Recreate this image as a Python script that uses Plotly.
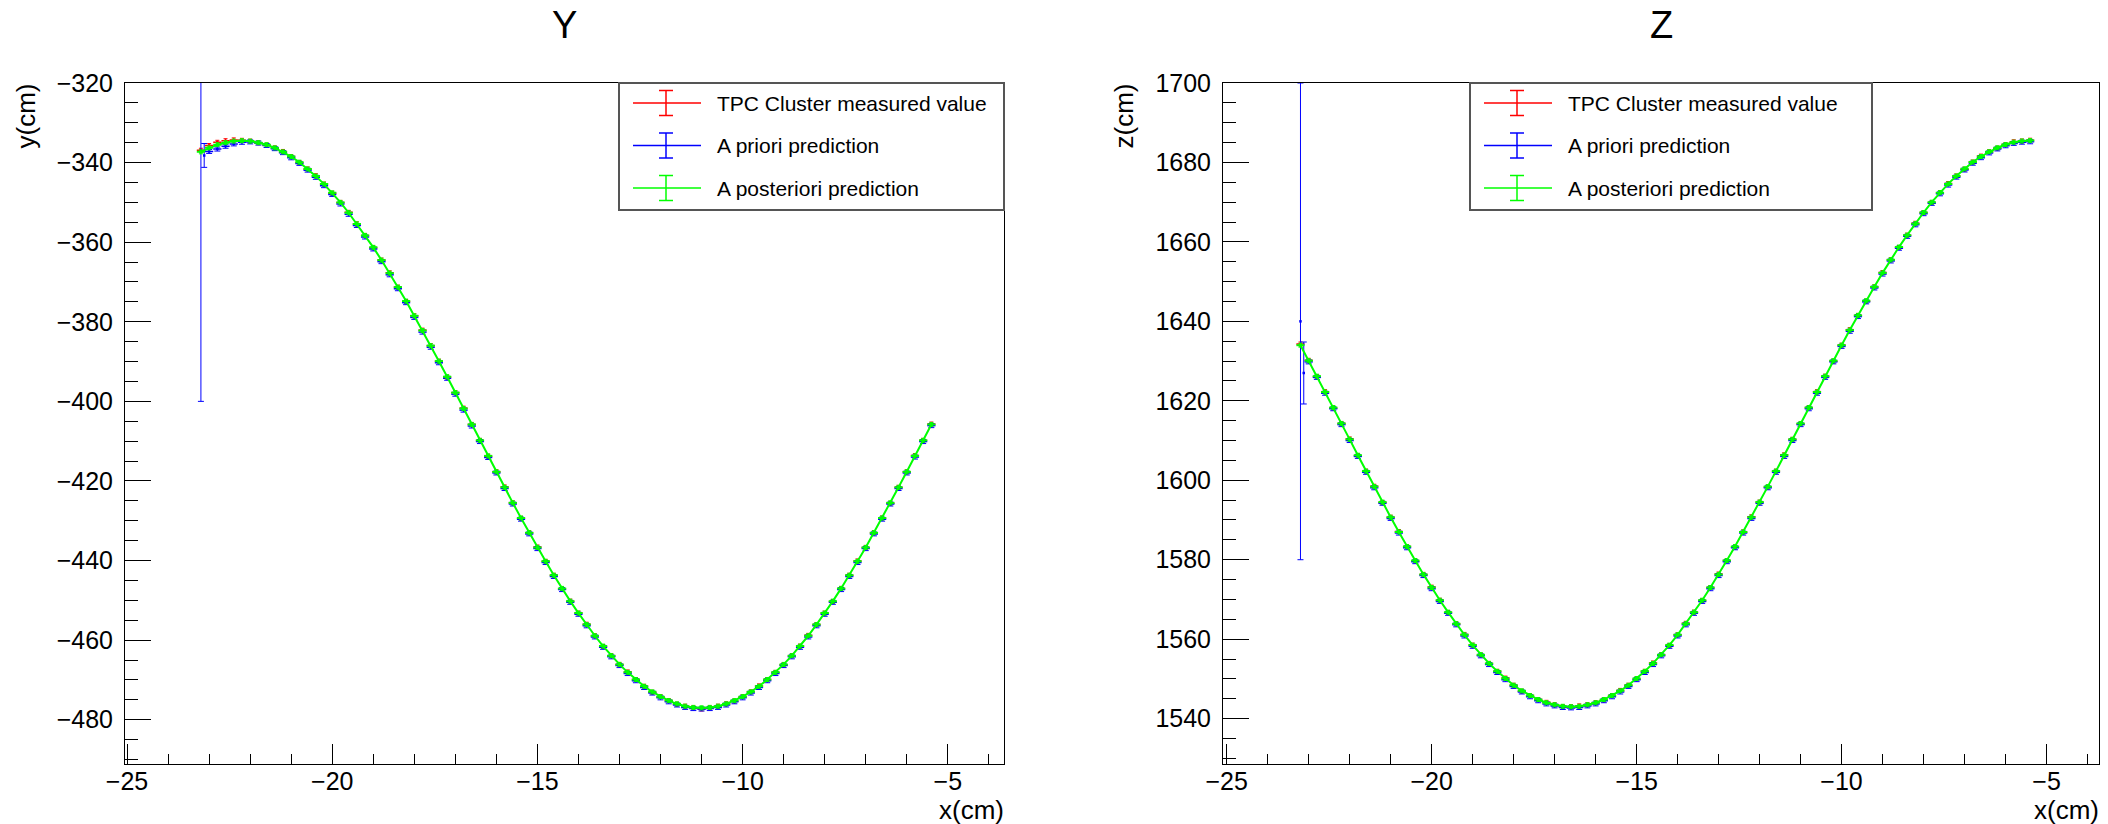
import plotly.graph_objects as go

W, H = 2108, 824

# ---------------- data ----------------
x_cm = [-23.2, -23.0, -22.8, -22.6, -22.4, -22.2, -22.0, -21.8, -21.6, -21.4,
        -21.2, -21.0, -20.8, -20.6, -20.4, -20.2, -20.0, -19.8, -19.6, -19.4,
        -19.2, -19.0, -18.8, -18.6, -18.4, -18.2, -18.0, -17.8, -17.6, -17.4,
        -17.2, -17.0, -16.8, -16.6, -16.4, -16.2, -16.0, -15.8, -15.6, -15.4,
        -15.2, -15.0, -14.8, -14.6, -14.4, -14.2, -14.0, -13.8, -13.6, -13.4,
        -13.2, -13.0, -12.8, -12.6, -12.4, -12.2, -12.0, -11.8, -11.6, -11.4,
        -11.2, -11.0, -10.8, -10.6, -10.4, -10.2, -10.0, -9.8, -9.6, -9.4,
        -9.2, -9.0, -8.8, -8.6, -8.4, -8.2, -8.0, -7.8, -7.6, -7.4,
        -7.2, -7.0, -6.8, -6.6, -6.4, -6.2, -6.0, -5.8, -5.6, -5.4]

x_prior = [-23.2, -23.12, -23.0, -22.8, -22.6, -22.4, -22.2, -22.0, -21.8, -21.6, -21.4,
           -21.2, -21.0, -20.8, -20.6, -20.4, -20.2, -20.0, -19.8, -19.6, -19.4,
           -19.2, -19.0, -18.8, -18.6, -18.4, -18.2, -18.0, -17.8, -17.6, -17.4,
           -17.2, -17.0, -16.8, -16.6, -16.4, -16.2, -16.0, -15.8, -15.6, -15.4,
           -15.2, -15.0, -14.8, -14.6, -14.4, -14.2, -14.0, -13.8, -13.6, -13.4,
           -13.2, -13.0, -12.8, -12.6, -12.4, -12.2, -12.0, -11.8, -11.6, -11.4,
           -11.2, -11.0, -10.8, -10.6, -10.4, -10.2, -10.0, -9.8, -9.6, -9.4,
           -9.2, -9.0, -8.8, -8.6, -8.4, -8.2, -8.0, -7.8, -7.6, -7.4,
           -7.2, -7.0, -6.8, -6.6, -6.4, -6.2, -6.0, -5.8, -5.6, -5.4]

# Y view
y_measured = [-336.9, -335.7, -334.9, -334.5, -334.3, -334.4, -334.6, -335.0, -335.6, -336.3,
              -337.2, -338.5, -340.0, -341.6, -343.3, -345.4, -347.7, -350.0, -352.5, -355.4,
              -358.3, -361.4, -364.5, -367.7, -371.3, -374.9, -378.5, -382.1, -386.0, -389.9,
              -393.9, -397.8, -401.7, -405.8, -409.8, -413.8, -417.7, -421.5, -425.5, -429.4,
              -433.0, -436.6, -440.2, -443.7, -447.1, -450.2, -453.2, -456.0, -458.9, -461.6,
              -463.9, -466.1, -468.0, -469.9, -471.6, -473.1, -474.2, -475.2, -476.1, -476.6,
              -477.0, -477.3, -477.0, -476.6, -476.0, -475.3, -474.2, -473.0, -471.5, -469.9,
              -468.1, -466.2, -463.9, -461.5, -458.8, -456.1, -453.2, -450.3, -447.0, -443.7,
              -440.1, -436.7, -433.0, -429.3, -425.6, -421.6, -417.7, -413.6, -409.8, -405.7]

y_prior = [-337.0, -338.2,
           -337.2, -336.6, -335.9, -335.3, -334.9, -334.8, -335.1, -335.7, -336.5,
           -337.5, -338.8, -340.2, -341.9, -343.7, -345.8, -348.0, -350.4, -353.0, -355.8,
           -358.7, -361.7, -364.9, -368.2, -371.7, -375.2, -378.9, -382.6, -386.4, -390.3,
           -394.2, -398.2, -402.2, -406.2, -410.1, -414.1, -418.0, -421.9, -425.8, -429.6,
           -433.3, -437.0, -440.5, -444.0, -447.3, -450.5, -453.5, -456.4, -459.2, -461.8,
           -464.2, -466.4, -468.4, -470.2, -471.9, -473.3, -474.5, -475.5, -476.3, -476.9,
           -477.2, -477.3, -477.2, -476.9, -476.3, -475.5, -474.5, -473.3, -471.9, -470.2,
           -468.4, -466.4, -464.2, -461.8, -459.2, -456.4, -453.5, -450.5, -447.3, -444.0,
           -440.5, -437.0, -433.3, -429.6, -425.8, -421.9, -418.0, -414.0, -410.1, -406.1]

y_posterior = [-337.3, -336.3, -335.5, -335.0, -334.6, -334.5, -334.6, -335.0, -335.5, -336.3,
               -337.3, -338.5, -339.9, -341.6, -343.4, -345.4, -347.6, -350.0, -352.6, -355.4,
               -358.3, -361.3, -364.5, -367.8, -371.3, -374.8, -378.5, -382.2, -386.0, -389.9,
               -393.8, -397.8, -401.8, -405.8, -409.8, -413.7, -417.7, -421.6, -425.5, -429.3,
               -433.0, -436.7, -440.2, -443.7, -447.0, -450.2, -453.2, -456.1, -458.9, -461.5,
               -463.9, -466.1, -468.1, -469.9, -471.6, -473.0, -474.2, -475.2, -476.0, -476.6,
               -476.9, -477.0, -476.9, -476.6, -476.0, -475.2, -474.2, -473.0, -471.6, -469.9,
               -468.1, -466.1, -463.9, -461.5, -458.9, -456.1, -453.2, -450.2, -447.0, -443.7,
               -440.2, -436.7, -433.0, -429.3, -425.5, -421.6, -417.7, -413.7, -409.8, -405.8]

# Z view
z_measured = [1634.3, 1630.2, 1626.1, 1622.3, 1618.2, 1614.3, 1610.4, 1606.2, 1602.3, 1598.5,
              1594.4, 1590.7, 1587.1, 1583.3, 1579.7, 1576.3, 1573.1, 1569.8, 1566.7, 1563.9,
              1561.2, 1558.5, 1556.0, 1553.9, 1551.9, 1550.2, 1548.4, 1546.9, 1545.8, 1544.8,
              1544.1, 1543.5, 1543.0, 1543.0, 1543.2, 1543.5, 1544.0, 1544.7, 1545.8, 1547.1,
              1548.4, 1550.0, 1551.9, 1554.0, 1556.1, 1558.4, 1561.1, 1564.0, 1566.8, 1569.7,
              1573.0, 1576.4, 1579.8, 1583.2, 1587.0, 1590.8, 1594.5, 1598.3, 1602.3, 1606.4,
              1610.3, 1614.2, 1618.3, 1622.3, 1626.2, 1630.0, 1634.0, 1637.9, 1641.5, 1645.1,
              1648.7, 1652.3, 1655.5, 1658.6, 1661.7, 1664.7, 1667.4, 1669.9, 1672.4, 1674.7,
              1676.6, 1678.3, 1680.1, 1681.6, 1682.7, 1683.6, 1684.5, 1685.2, 1685.4, 1685.6]

z_prior = [1640.0, 1627.0,
           1629.8, 1625.9, 1621.9, 1618.0, 1614.0, 1610.0, 1606.0, 1602.0, 1598.1,
           1594.2, 1590.4, 1586.7, 1583.0, 1579.5, 1576.0, 1572.7, 1569.5, 1566.5, 1563.6,
           1560.8, 1558.2, 1555.8, 1553.6, 1551.6, 1549.8, 1548.1, 1546.7, 1545.5, 1544.5,
           1543.7, 1543.2, 1542.8, 1542.7, 1542.8, 1543.2, 1543.7, 1544.5, 1545.5, 1546.7,
           1548.1, 1549.8, 1551.6, 1553.6, 1555.8, 1558.2, 1560.8, 1563.6, 1566.5, 1569.5,
           1572.7, 1576.0, 1579.5, 1583.0, 1586.7, 1590.4, 1594.2, 1598.1, 1602.0, 1606.0,
           1610.0, 1614.0, 1618.0, 1621.9, 1625.9, 1629.8, 1633.7, 1637.5, 1641.2, 1644.9,
           1648.4, 1651.9, 1655.2, 1658.4, 1661.4, 1664.3, 1667.1, 1669.7, 1672.1, 1674.3,
           1676.3, 1678.1, 1679.8, 1681.2, 1682.4, 1683.4, 1684.2, 1684.8, 1685.1, 1685.2]

z_posterior = [1634.0, 1630.1, 1626.2, 1622.2, 1618.3, 1614.3, 1610.3, 1606.3, 1602.3, 1598.4,
               1594.5, 1590.7, 1587.0, 1583.3, 1579.8, 1576.3, 1573.0, 1569.8, 1566.8, 1563.9,
               1561.1, 1558.5, 1556.1, 1553.9, 1551.9, 1550.1, 1548.4, 1547.0, 1545.8, 1544.8,
               1544.0, 1543.5, 1543.1, 1543.0, 1543.1, 1543.5, 1544.0, 1544.8, 1545.8, 1547.0,
               1548.4, 1550.1, 1551.9, 1553.9, 1556.1, 1558.5, 1561.1, 1563.9, 1566.8, 1569.8,
               1573.0, 1576.3, 1579.8, 1583.3, 1587.0, 1590.7, 1594.5, 1598.4, 1602.3, 1606.3,
               1610.3, 1614.3, 1618.3, 1622.2, 1626.2, 1630.1, 1634.0, 1637.8, 1641.5, 1645.2,
               1648.7, 1652.2, 1655.5, 1658.7, 1661.7, 1664.6, 1667.4, 1670.0, 1672.4, 1674.6,
               1676.6, 1678.4, 1680.1, 1681.5, 1682.7, 1683.7, 1684.5, 1685.1, 1685.4, 1685.5]

# uncertainties
err_x = 0.1
err_small = 0.5
prior_err_x = [0.0, 0.0] + [err_x] * (len(x_prior) - 2)
y_prior_err = [63.0, 3.0] + [err_small] * (len(y_prior) - 2)
z_prior_err = [60.0, 7.8] + [err_small] * (len(z_prior) - 2)

series_names = ["TPC Cluster measured value", "A priori prediction", "A posteriori prediction"]
series_colors = ["#ff0000", "#0000ff", "#00ff00"]

panel_titles = ["Y", "Z"]
y_titles = ["y(cm)", "z(cm)"]
x_title = "x(cm)"

# ---------------- layout geometry (pixels) ----------------
FONT = "Liberation Sans, Arial, Helvetica, sans-serif"
plot_top, plot_bottom = 83, 763.5
panels = [
    dict(x0=125, x1=1004, xr=[-25.05, -3.63], yr=[-491.0, -320.0], leg=(619, 1004)),
    dict(x0=1223, x1=2099, xr=[-25.09, -3.72], yr=[1528.7, 1700.0], leg=(1470, 1872)),
]


def fx(p):
    return p / W


def fy(p):
    return 1 - p / H


fig = go.Figure()

data_sets = [
    (y_measured, y_prior, y_prior_err, y_posterior),
    (z_measured, z_prior, z_prior_err, z_posterior),
]

for i, (meas, prior, prior_err, post) in enumerate(data_sets):
    xa = "x" if i == 0 else "x2"
    ya = "y" if i == 0 else "y2"
    common = dict(xaxis=xa, yaxis=ya, showlegend=False, cliponaxis=True)
    fig.add_trace(go.Scatter(
        x=x_cm, y=meas, name=series_names[0], mode="markers",
        marker=dict(symbol="square", size=2.5, color=series_colors[0], line=dict(width=0)),
        error_x=dict(type="constant", value=err_x, color=series_colors[0], thickness=1.5, width=0),
        error_y=dict(type="constant", value=err_small, color=series_colors[0], thickness=1, width=2),
        **common))
    fig.add_trace(go.Scatter(
        x=x_prior, y=prior, name=series_names[1], mode="markers",
        marker=dict(symbol="square", size=2.5, color=series_colors[1], line=dict(width=0)),
        error_x=dict(type="data", array=prior_err_x, color=series_colors[1], thickness=1.5, width=0),
        error_y=dict(type="data", array=prior_err, color=series_colors[1], thickness=1, width=3),
        **common))
    fig.add_trace(go.Scatter(
        x=x_cm, y=post, name=series_names[2], mode="lines+markers",
        line=dict(color=series_colors[2], width=2),
        marker=dict(symbol="square", size=3, color=series_colors[2], line=dict(width=0)),
        error_x=dict(type="constant", value=err_x, color=series_colors[2], thickness=2, width=0),
        error_y=dict(type="constant", value=err_small, color=series_colors[2], thickness=1, width=2),
        **common))

axis_common = dict(
    showline=True, linecolor="black", linewidth=1, mirror=True,
    showgrid=False, zeroline=False, ticks="inside", tickcolor="black",
    tickfont=dict(family=FONT, size=25, color="black"), automargin=False,
)

layout_axes = {}
for i, p in enumerate(panels):
    sx = "" if i == 0 else "2"
    layout_axes["xaxis" + sx] = dict(
        domain=[fx(p["x0"]), fx(p["x1"])], range=p["xr"], anchor="y" + sx,
        dtick=5, tick0=0, ticklen=20, tickwidth=1,
        minor=dict(dtick=1, tick0=0, ticks="inside", ticklen=10, tickcolor="black", showgrid=False),
        ticklabelstandoff=-5, **axis_common)
    layout_axes["yaxis" + sx] = dict(
        domain=[fy(plot_bottom), fy(plot_top)], range=p["yr"], anchor="x" + sx,
        dtick=20, tick0=0, ticklen=26, tickwidth=1,
        minor=dict(dtick=5, tick0=0, ticks="inside", ticklen=13, tickcolor="black", showgrid=False),
        ticklabelstandoff=6, **axis_common)

shapes = []
annotations = []
for i, p in enumerate(panels):
    # panel title
    annotations.append(dict(text=panel_titles[i], x=fx((p["x0"] + p["x1"]) / 2), y=fy(25),
                            xref="paper", yref="paper", xanchor="center", yanchor="middle",
                            showarrow=False, font=dict(family=FONT, size=38, color="black")))
    # axis titles
    annotations.append(dict(text=y_titles[i], x=fx(p["x0"] - 99), y=fy(plot_top - 1),
                            xref="paper", yref="paper", xanchor="center", yanchor="top",
                            textangle=-90, showarrow=False,
                            font=dict(family=FONT, size=26, color="black")))
    annotations.append(dict(text=x_title, x=fx(p["x1"] + 2), y=fy(810),
                            xref="paper", yref="paper", xanchor="right", yanchor="middle",
                            showarrow=False, font=dict(family=FONT, size=26, color="black")))
    # legend box
    bl, br = p["leg"]
    btop, bbot = 83, 210
    shapes.append(dict(type="rect", xref="paper", yref="paper", x0=fx(bl), x1=fx(br),
                       y0=fy(bbot), y1=fy(btop), fillcolor="white",
                       line=dict(color="#555555", width=2), layer="above"))
    for j, yc in enumerate([103, 145.5, 188]):
        c = series_colors[j]
        shapes.append(dict(type="line", xref="paper", yref="paper", x0=fx(bl + 14), x1=fx(bl + 82),
                           y0=fy(yc), y1=fy(yc), line=dict(color=c, width=1.5), layer="above"))
        shapes.append(dict(type="line", xref="paper", yref="paper", x0=fx(bl + 47), x1=fx(bl + 47),
                           y0=fy(yc - 12.5), y1=fy(yc + 12.5), line=dict(color=c, width=1.5), layer="above"))
        for cy in (yc - 12.5, yc + 12.5):
            shapes.append(dict(type="line", xref="paper", yref="paper", x0=fx(bl + 40), x1=fx(bl + 54),
                               y0=fy(cy), y1=fy(cy), line=dict(color=c, width=1.5), layer="above"))
        annotations.append(dict(text=series_names[j], x=fx(bl + 96), y=fy(yc),
                                xref="paper", yref="paper", xanchor="left", yanchor="middle",
                                showarrow=False, font=dict(family=FONT, size=21, color="black")))

fig.update_layout(
    width=W, height=H, autosize=False,
    margin=dict(l=0, r=0, t=0, b=0, pad=0),
    paper_bgcolor="white", plot_bgcolor="white",
    showlegend=False,
    shapes=shapes, annotations=annotations,
    **layout_axes,
)

fig.write_html(
    "out.html",
    post_script="document.body.style.margin='0px';document.body.style.overflow='hidden';",
)
